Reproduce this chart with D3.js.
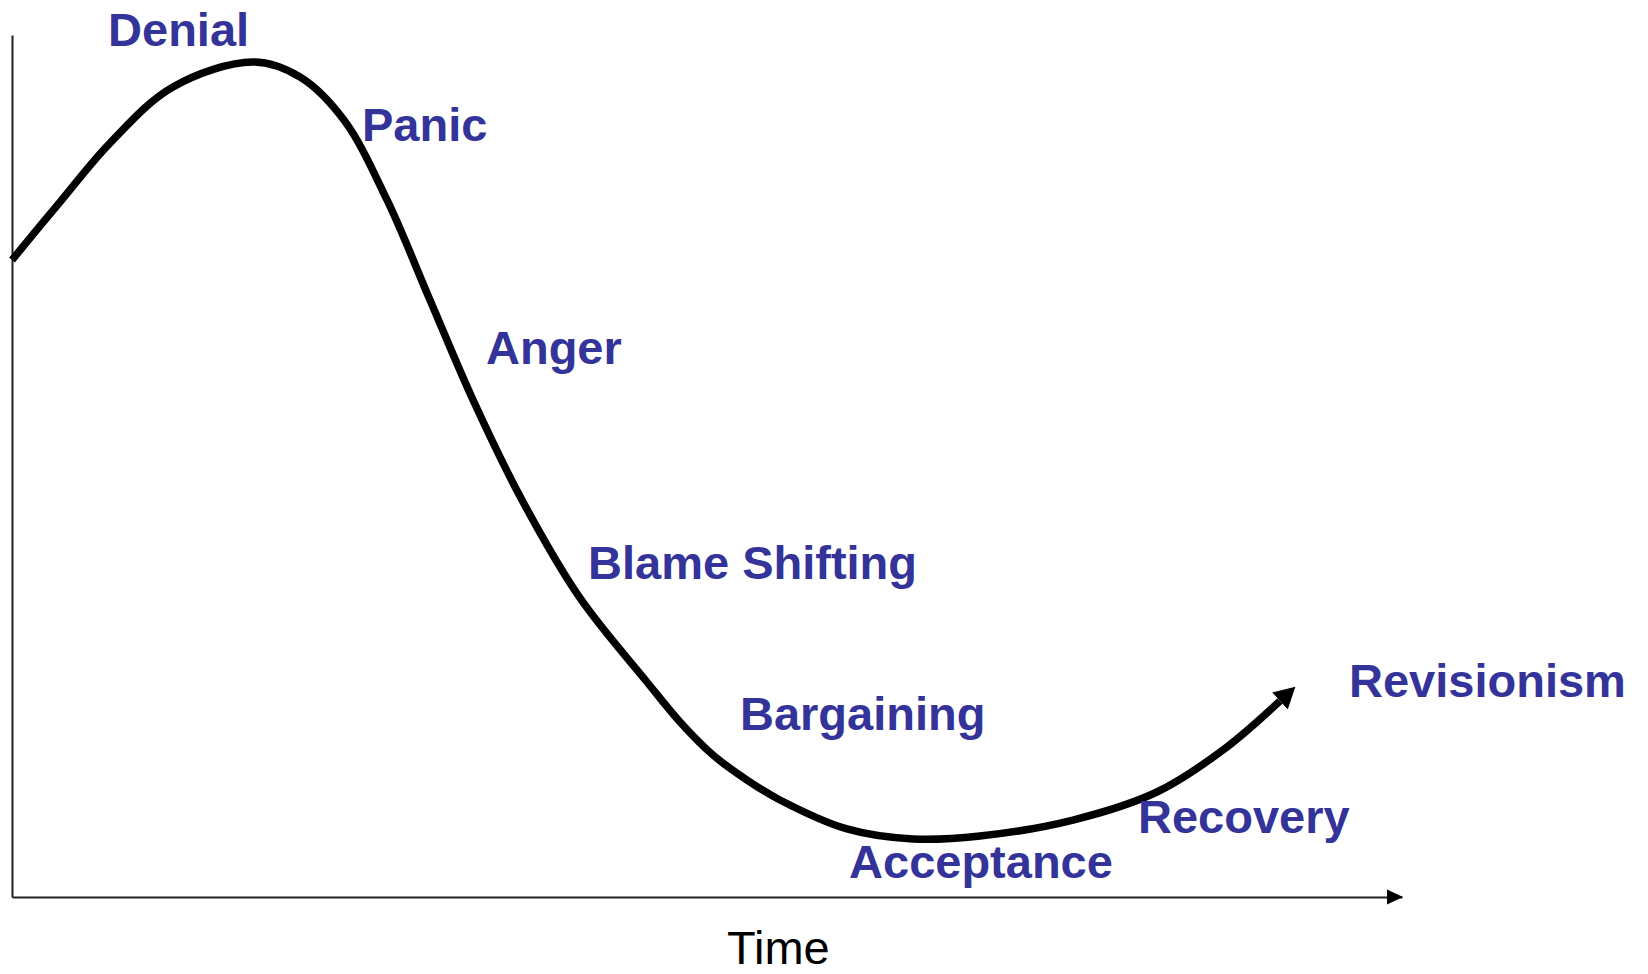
<!DOCTYPE html>
<html>
<head>
<meta charset="utf-8">
<script src="https://cdn.jsdelivr.net/npm/d3@7"></script>
<style>
  html, body { margin: 0; padding: 0; background: #fff; }
  .stage { font-family: 'Liberation Sans', Arial, sans-serif; font-weight: bold; font-size: 47px; fill: #333399; }
  .axis-title { font-family: 'Liberation Sans', Arial, sans-serif; font-size: 47px; fill: #000; }
  .axis .domain { stroke: #222; stroke-width: 2px; }
</style>
</head>
<body>
<div id="chart"></div>
<script>
// curve: time (0-100) vs. level (0-100)
const curveTime = [0, 3.45, 7.05, 11.58, 17.34, 20.72, 23.88, 26.98,
  30.07, 33.17, 36.69, 40.86, 45.68, 48.06, 50.43, 52.88, 55.25, 60.07,
  64.82, 69.64, 76.33, 82.37, 87.12, 91.22];
const curveLevel = [74.07, 80.81, 87.67, 94.19, 97.09, 95.35, 90.35, 81.05,
  69.42, 57.79, 46.16, 34.77, 25.00, 20.35, 16.51, 13.60, 11.28, 7.91,
  6.74, 7.09, 8.95, 12.21, 17.09, 22.79];

// stage labels and where they sit (time, level)
const stageNames = ['Denial', 'Panic', 'Anger', 'Blame Shifting', 'Bargaining',
  'Acceptance', 'Recovery', 'Revisionism'];
const stageTime = [6.91, 25.18, 34.10, 41.44, 52.37, 60.22, 81.01, 96.19];
const stageLevel = [98.95, 87.91, 61.98, 36.98, 19.42, 2.21, 7.44, 23.26];

const xTitle = 'Time';

const width = 1648,
  height = 974;

const x = d3.scaleLinear().domain([0, 100]).range([12, 1402]);
const y = d3.scaleLinear().domain([0, 100]).range([897, 37]);

const svg = d3.select('#chart')
  .append('svg')
  .attr('width', width)
  .attr('height', height);

const defs = svg.append('defs');

defs.append('marker')
  .attr('id', 'curve-arrow')
  .attr('markerUnits', 'userSpaceOnUse')
  .attr('viewBox', '0 -12 22 24')
  .attr('refX', 0)
  .attr('refY', 0)
  .attr('markerWidth', 22)
  .attr('markerHeight', 24)
  .attr('orient', 'auto')
  .append('path')
  .attr('d', 'M0,-11.5L21,0L0,11.5Z')
  .attr('fill', '#000');

// axes without ticks, only the domain lines
svg.append('g')
  .attr('class', 'axis x-axis')
  .attr('transform', `translate(0,${y(0)})`)
  .call(d3.axisBottom(x).tickValues([]).tickSizeOuter(0));

svg.append('g')
  .attr('class', 'axis y-axis')
  .attr('transform', `translate(${x(0)},0)`)
  .call(d3.axisLeft(y.copy().range([897, 35])).tickValues([]).tickSizeOuter(0));

// arrow head at the end of the time axis
const xEnd = x(100) + 1;
svg.append('path')
  .attr('d', `M${xEnd - 16},${y(0) - 7.5}L${xEnd},${y(0)}L${xEnd - 16},${y(0) + 7.5}Z`)
  .attr('fill', '#000');

const points = curveTime.map((t, i) => ({ t, v: curveLevel[i] }));

const line = d3.line()
  .x((d) => x(d.t))
  .y((d) => y(d.v))
  .curve(d3.curveCatmullRom.alpha(0.5));

svg.append('path')
  .datum(points)
  .attr('class', 'line')
  .attr('d', line)
  .attr('fill', 'none')
  .attr('stroke', '#000')
  .attr('stroke-width', 7.5)
  .attr('stroke-linejoin', 'round')
  .attr('marker-end', 'url(#curve-arrow)');

svg.selectAll('text.stage')
  .data(stageNames)
  .enter()
  .append('text')
  .attr('class', 'stage')
  .attr('x', (d, i) => x(stageTime[i]))
  .attr('y', (d, i) => y(stageLevel[i]))
  .text((d) => d);

svg.append('text')
  .attr('class', 'axis-title')
  .attr('x', 727)
  .attr('y', 964)
  .text(xTitle);
</script>
</body>
</html>
